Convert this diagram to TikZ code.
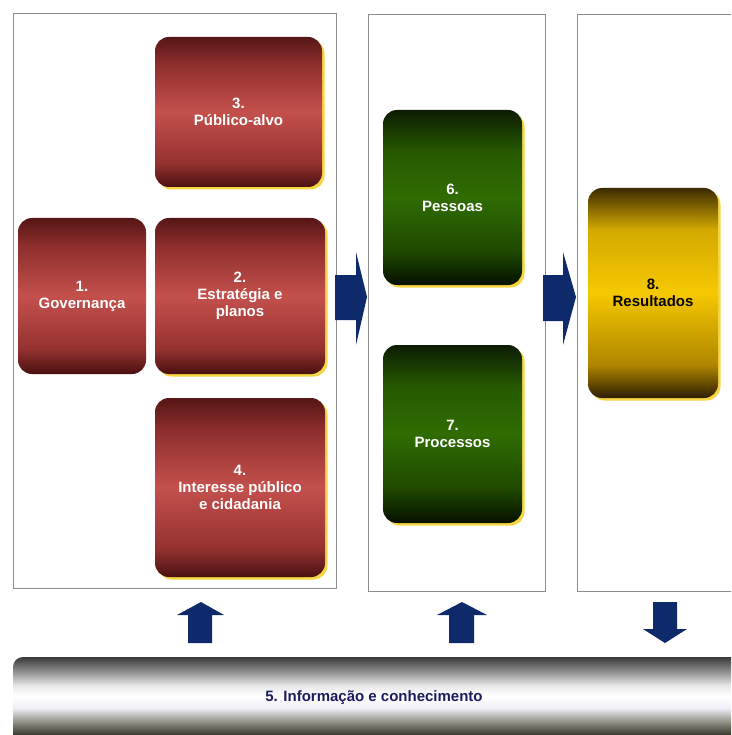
\documentclass[tikz,border=0pt]{standalone}
\usepackage{fontspec}
\setmainfont{Liberation Sans}
\usetikzlibrary{shadows}
\definecolor{panelgray}{HTML}{8C8C8C}
\definecolor{arrowc}{HTML}{0F2A6B}
\definecolor{glowc}{HTML}{F6D640}
\definecolor{navytext}{HTML}{1C1C5E}
% red
\definecolor{rA}{HTML}{4A1010}
\definecolor{rB}{HTML}{8E2F2D}
\definecolor{rC}{HTML}{C4504C}
\definecolor{rD}{HTML}{943230}
\definecolor{rE}{HTML}{561616}
% green
\definecolor{gA}{HTML}{061000}
\definecolor{gB}{HTML}{1F4A00}
\definecolor{gC}{HTML}{2F6C02}
\definecolor{gD}{HTML}{275A00}
\definecolor{gE}{HTML}{0C1C02}
% yellow
\definecolor{yA}{HTML}{2E1E00}
\definecolor{yB}{HTML}{B08600}
\definecolor{yC}{HTML}{F5C800}
\definecolor{yD}{HTML}{D4AA00}
\definecolor{yE}{HTML}{3C2A00}
% bar
\definecolor{kA}{HTML}{2A2A20}
\definecolor{kB}{HTML}{3A3A2E}
\definecolor{kC}{HTML}{9A9A90}
\definecolor{kD}{HTML}{F0F0F8}
\definecolor{kE}{HTML}{E6E6E6}
\definecolor{kF}{HTML}{8C8C8C}
\definecolor{kG}{HTML}{3A3A3A}
\pgfdeclareverticalshading{redshade}{100bp}{color(0bp)=(rA); color(25bp)=(rA); color(33bp)=(rD); color(50bp)=(rC); color(66bp)=(rB); color(75bp)=(rE); color(100bp)=(rE)}
\pgfdeclareverticalshading{greenshade}{100bp}{color(0bp)=(gA); color(25bp)=(gA); color(35bp)=(gB); color(50bp)=(gC); color(63bp)=(gD); color(75bp)=(gE); color(100bp)=(gE)}
\pgfdeclareverticalshading{yellowshade}{100bp}{color(0bp)=(yA); color(25bp)=(yA); color(33bp)=(yB); color(50bp)=(yC); color(65bp)=(yD); color(75bp)=(yE); color(100bp)=(yE)}
\pgfdeclareverticalshading{barshade}{100bp}{color(0bp)=(kA); color(25bp)=(kA); color(31bp)=(kB); color(39bp)=(kC); color(46bp)=(kD); color(53bp)=(white); color(59bp)=(kE); color(67bp)=(kF); color(75bp)=(kG); color(100bp)=(kG)}
\begin{document}
\begin{tikzpicture}[x=1pt,y=-1pt,
  panel/.style={draw=panelgray, line width=0.8pt, fill=white, inner sep=0pt},
  boxbase/.style={rounded corners=14pt, inner sep=0pt, align=center,
    font=\bfseries\fontsize{15}{17}\selectfont},
  glow/.style={drop shadow={shadow xshift=2.5pt, shadow yshift=-2.5pt, fill=glowc, opacity=1}},
  redbox/.style={boxbase, shading=redshade, text=white},
  greenbox/.style={boxbase, shading=greenshade, text=white, glow},
  yellowbox/.style={boxbase, shading=yellowshade, text=black!85!yA, glow},
  blockarrow/.style={fill=arrowc, draw=none}]
\useasboundingbox (0,0) rectangle (731,735);
\clip (0,0) rectangle (731,735);
\fill[white] (0,0) rectangle (731,735);

% panels
\node[panel, minimum width=323pt, minimum height=575pt] (p1) at (174.5,300.5) {};
\node[panel, minimum width=177pt, minimum height=577pt] (p2) at (456.5,302.5) {};
\node[panel, minimum width=183pt, minimum height=577pt] (p3) at (668.5,302.5) {};

% boxes
\node[redbox, glow, minimum width=167pt, minimum height=150pt] (b3) at (238.5,112) {3.\\Público-alvo};
\node[redbox, minimum width=128pt, minimum height=156pt] (b1) at (82,296) {1.\\Governança};
\node[redbox, glow, minimum width=170pt, minimum height=156pt] (b2) at (240,296) {2.\\Estratégia e\\planos};
\node[redbox, glow, minimum width=170pt, minimum height=179pt] (b4) at (240,487.5) {4.\\Interesse público\\e cidadania};
\node[greenbox, minimum width=139pt, minimum height=175pt] (b6) at (452.5,197.5) {6.\\Pessoas};
\node[greenbox, minimum width=139pt, minimum height=178pt] (b7) at (452.5,434) {7.\\Processos};
\node[yellowbox, minimum width=130pt, minimum height=210pt] (b8) at (653,293) {8.\\Resultados};

% block arrows
\fill[blockarrow] (335,275) -- (356,275) -- (356,252) -- (367,297) -- (356,345) -- (356,320) -- (335,320) -- cycle;
\fill[blockarrow] (543,275) -- (563,275) -- (563,252) -- (576,297) -- (563,345) -- (563,321) -- (543,321) -- cycle;
\fill[blockarrow] (188,643) -- (188,615) -- (177,615) -- (201,602) -- (224,615) -- (212,615) -- (212,643) -- cycle;
\fill[blockarrow] (449,643) -- (449,615) -- (437,615) -- (462,602) -- (487,615) -- (474,615) -- (474,643) -- cycle;
\fill[blockarrow] (653,602) -- (677,602) -- (677,629) -- (687,629) -- (665,643) -- (643,629) -- (653,629) -- cycle;

% information bar
\shade[shading=barshade, rounded corners=10pt] (13,657) rectangle (780,745);
\node[font=\bfseries\fontsize{15}{17}\selectfont, text=navytext] (b5) at (374,698) {5. Informação e conhecimento};
\end{tikzpicture}
\end{document}
